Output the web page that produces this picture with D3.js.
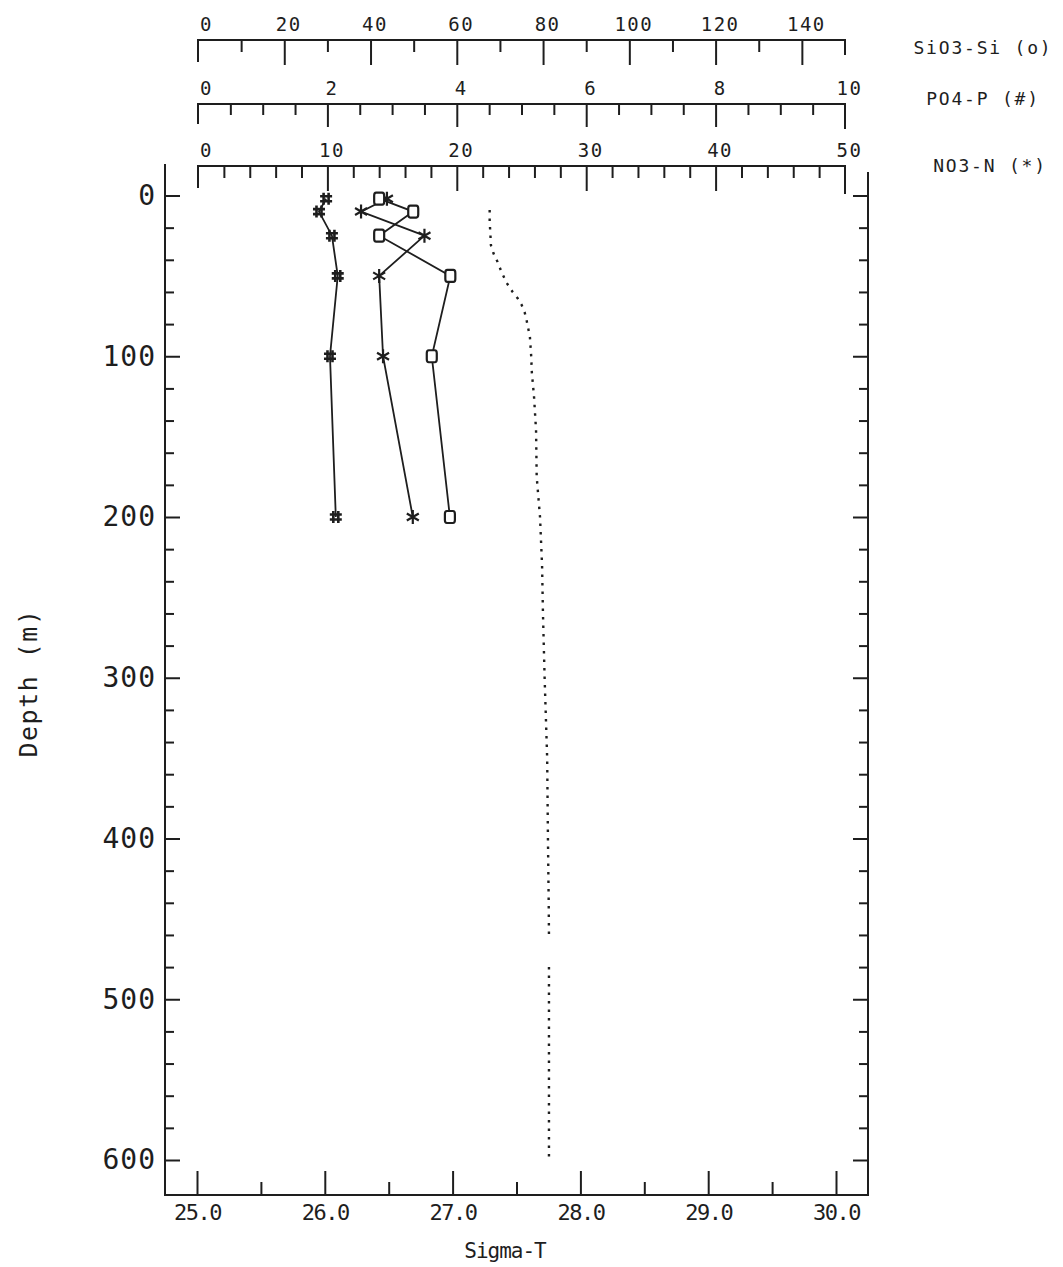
<!DOCTYPE html>
<html>
<head>
<meta charset="utf-8">
<script src="https://cdn.jsdelivr.net/npm/d3@7"></script>
<style>
  html, body { margin: 0; padding: 0; background: #fff; }
  svg { display: block; }
  text { fill: #1e1e1e; font-family: "DejaVu Sans Mono", "Liberation Mono", monospace; }
</style>
</head>
<body>
<svg id="chart" width="1063" height="1267"></svg>
<script>
// ---------------- data ----------------
const sampleDepths = [2, 10, 25, 50, 100, 200];
const no3Values  = [14.6, 12.6, 17.5, 14.0, 14.3, 16.6];
const po4Values  = [1.98, 1.87, 2.07, 2.16, 2.04, 2.13];
const sio3Values = [42.0, 49.9, 42.0, 58.5, 54.2, 58.4];

const sigmaDepths = [9, 16, 23, 31, 36, 41, 47, 54, 60, 64, 68, 73, 78, 88, 100, 110, 125, 146, 175, 200,
                     230, 260, 300, 350, 400, 440, 460, 470, 480, 500, 540, 570, 600];
const sigmaValues = [27.29, 27.29, 27.295, 27.30, 27.32, 27.35, 27.38, 27.42, 27.47, 27.51, 27.54, 27.565,
                     27.58, 27.605, 27.615, 27.62, 27.637, 27.653, 27.658, 27.684, 27.70, 27.707, 27.72,
                     27.74, 27.746, 27.752, 27.754, null, 27.754, 27.754, 27.754, 27.754, 27.754];

const depthTicks = [0, 100, 200, 300, 400, 500, 600];
const sigmaTicks = [25, 26, 27, 28, 29, 30];
const sio3Ticks = [0, 20, 40, 60, 80, 100, 120, 140];
const po4Ticks  = [0, 2, 4, 6, 8, 10];
const no3Ticks  = [0, 10, 20, 30, 40, 50];

const legendLabels = ["SiO3-Si  (o)", "PO4-P  (#)", "NO3-N  (*)"];

(function () {
// ---------------- layout ----------------
const ink = "#1e1e1e";
const svg = d3.select("#chart");

const fLeft = 165, fRight = 868, fTop = 164, fBottom = 1195;
const y = d3.scaleLinear().domain([0, 600]).range([195.5, 1160]);
const xSig = d3.scaleLinear().domain([25, 30]).range([197, 836]);
const xNO3 = d3.scaleLinear().domain([0, 50]).range([198, 845]);
const xPO4 = d3.scaleLinear().domain([0, 10]).range([198, 845]);
const xSi  = d3.scaleLinear().domain([0, 150]).range([198, 845]);

function styleAxis(g) {
  g.selectAll("line").attr("stroke", ink).attr("stroke-width", 2);
  g.selectAll("path.domain").attr("stroke", ink).attr("stroke-width", 2);
}

// frame (left, bottom, right)
svg.append("path")
  .attr("d", `M${fLeft},${fTop}V${fBottom}H${fRight}V${fTop + 8}`)
  .attr("fill", "none").attr("stroke", ink).attr("stroke-width", 2);

const depthMinor = d3.range(20, 600, 20).filter(d => d % 100);

// left depth axis
const gL = svg.append("g").attr("transform", `translate(${fLeft},0)`);
gL.append("g").call(d3.axisLeft(y).tickValues(depthTicks).tickSize(-15).tickPadding(9).tickFormat(d3.format("d")));
gL.append("g").call(d3.axisLeft(y).tickValues(depthMinor).tickSize(-9).tickFormat(""));
gL.selectAll("path.domain").remove();
gL.selectAll("text").style("font-size", "28px").style("letter-spacing", "1px").attr("fill", ink);
styleAxis(gL);

// right axis
const gR = svg.append("g").attr("transform", `translate(${fRight},0)`);
gR.append("g").call(d3.axisRight(y).tickValues(depthTicks).tickSize(-15).tickFormat(""));
gR.append("g").call(d3.axisRight(y).tickValues(depthMinor).tickSize(-9).tickFormat(""));
gR.selectAll("path.domain").remove();
styleAxis(gR);

// bottom sigma-T axis
const gB = svg.append("g").attr("transform", `translate(0,${fBottom})`);
gB.append("g").call(d3.axisBottom(xSig).tickValues(sigmaTicks).tickSize(-24).tickPadding(9).tickFormat(d3.format(".1f")));
gB.append("g").call(d3.axisBottom(xSig).tickValues([25.5, 26.5, 27.5, 28.5, 29.5]).tickSize(-13).tickFormat(""));
gB.selectAll("path.domain").remove();
gB.selectAll("text").style("font-size", "22px").style("letter-spacing", "-1.5px").attr("fill", ink);
styleAxis(gB);

svg.append("text").attr("x", 505).attr("y", 1258).attr("text-anchor", "middle")
  .style("font-size", "21px").style("letter-spacing", "-1px").text("Sigma-T");

svg.append("text").attr("transform", "translate(37,683) rotate(-90)").attr("text-anchor", "middle")
  .style("font-size", "25px").style("letter-spacing", "1.5px").text("Depth  (m)");

// top nutrient axes
function topAxis(scale, yPos, labelled, minors, majLen, minLen, startLen, endLen) {
  const g = svg.append("g").attr("transform", `translate(0,${yPos})`);
  g.append("g").call(d3.axisTop(scale).tickValues(labelled).tickSize(-majLen).tickPadding(9)
    .tickFormat(d3.format("d")));
  g.append("g").call(d3.axisTop(scale).tickValues(minors).tickSize(-minLen).tickFormat(""));
  g.selectAll("path.domain").remove();
  g.selectAll(".tick").filter(d => d === scale.domain()[0] || d === scale.domain()[1]).select("line").remove();
  const dom = scale.domain();
  g.append("path")
    .attr("d", `M${scale(dom[0])},${startLen}V0H${scale(dom[1])}V${endLen}`)
    .attr("fill", "none").attr("stroke", ink).attr("stroke-width", 2);
  g.selectAll("text").style("font-size", "19px").style("letter-spacing", "1.5px").attr("fill", ink)
    .attr("dx", d => d === 0 ? 8 : 4);
  styleAxis(g);
  return g;
}
topAxis(xSi, 40, sio3Ticks, d3.range(10, 150, 20), 25, 12, 22, 15);
topAxis(xPO4, 104, po4Ticks, d3.range(0.5, 10, 0.5).filter(d => d % 2 !== 0), 23, 11, 20, 25);
topAxis(xNO3, 166, no3Ticks, d3.range(2, 50, 2).filter(d => d % 10 !== 0), 25, 12, 22, 28);

// legend labels
const legendY = [54, 105, 172];
const legendX = [983, 983, 990];
svg.append("g").selectAll("text").data(legendLabels).join("text")
  .attr("x", (d, i) => legendX[i]).attr("y", (d, i) => legendY[i])
  .attr("text-anchor", "middle").style("font-size", "18px").style("letter-spacing", "1.8px")
  .text(d => d);

// sigma-T dotted profile
const sigmaData = sigmaDepths.map((d, i) => ({depth: d, v: sigmaValues[i]}));
svg.append("path")
  .datum(sigmaData)
  .attr("d", d3.line().defined(d => d.v !== null).x(d => xSig(d.v)).y(d => y(d.depth)))
  .attr("fill", "none").attr("stroke", ink).attr("stroke-width", 2.4)
  .attr("stroke-dasharray", "2.5 6");

// nutrient profiles
const series = [
  {vals: po4Values, scale: xPO4, marker: "hash"},
  {vals: no3Values, scale: xNO3, marker: "star"},
  {vals: sio3Values, scale: xSi, marker: "circle"}
];
const markerPaths = {
  hash: "M-2.5,-6V6M2.5,-6V6M-6,-2.5H6M-6,2.5H6",
  star: "M0,-7V7M-6,-3.5L6,3.5M-6,3.5L6,-3.5",
  circle: "M-3,-6H3Q5,-6 5,-3V3Q5,6 3,6H-3Q-5,6 -5,3V-3Q-5,-6 -3,-6Z"
};
series.forEach(s => {
  const pts = sampleDepths.map((d, i) => ({depth: d, v: s.vals[i]}));
  svg.append("path").datum(pts)
    .attr("d", d3.line().x(d => s.scale(d.v)).y(d => y(d.depth)))
    .attr("fill", "none").attr("stroke", ink).attr("stroke-width", 1.8);
  svg.append("g").selectAll("path").data(pts).join("path")
    .attr("transform", d => `translate(${s.scale(d.v)},${y(d.depth)})`)
    .attr("d", markerPaths[s.marker])
    .attr("fill", s.marker === "circle" ? "#fff" : "none")
    .attr("stroke", ink).attr("stroke-width", s.marker === "hash" ? 2.6 : 2.2);
});
})();
</script>
</body>
</html>
